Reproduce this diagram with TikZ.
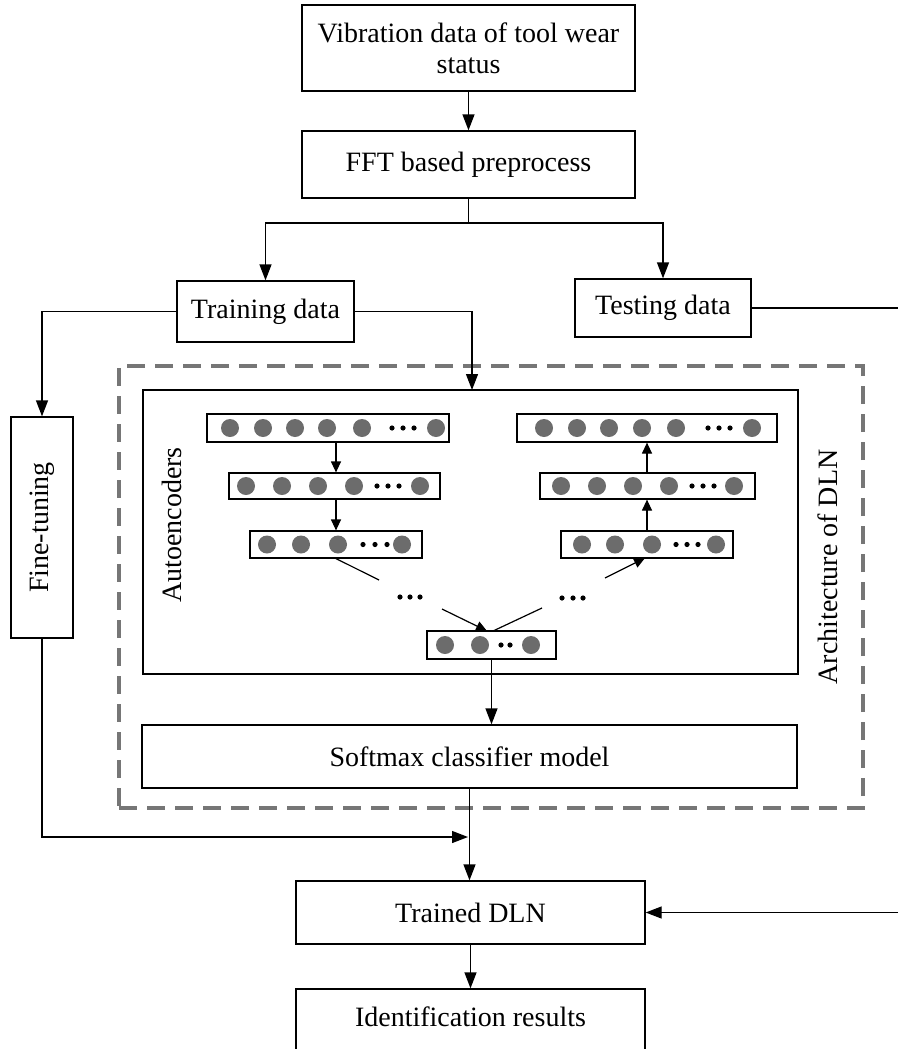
\documentclass[tikz,border=0pt]{standalone}
\usepackage{fontspec}
\setmainfont{Liberation Serif}
\usetikzlibrary{arrows.meta}
\definecolor{unitgray}{RGB}{108,108,108}
\definecolor{dashgray}{RGB}{118,118,118}
% a row of filled neuron units and a row of small dots at height #1
\newcommand\drawunits[2]{\foreach \u in {#2} \fill[unitgray] (\u,#1) circle[radius=9pt];}
\newcommand\drawdots[2]{\foreach \u in {#2} \fill[black] (\u,#1) circle[radius=2.6pt];}
\begin{document}
\begin{tikzpicture}[x=1pt,y=-1pt,
  txt/.style={font=\fontsize{28}{31}\selectfont},
  box/.style={draw, line width=1.3pt, inner sep=0pt, txt, align=center},
  layer/.style={draw, line width=1.2pt, inner sep=0pt},
  conn/.style={line width=1.3pt},
  arr/.style={conn, -{Triangle[length=16pt,width=12pt]}},
  iarr/.style={line width=1.2pt, -{Triangle[length=11pt,width=10pt]}},
  dashbox/.style={draw=dashgray, line width=3.3pt, dash pattern=on 18pt off 10pt, inner sep=0pt}
]
\useasboundingbox (0,0) rectangle (898,1049);
\clip (0,0) rectangle (898,1049);

% main flow boxes
\node[box, minimum width=333pt, minimum height=86pt] (vib) at (468.5,48)
  {Vibration data of tool wear\\status};
\node[box, minimum width=333pt, minimum height=67pt] (fft) at (468.5,164.5) {FFT based preprocess};
\node[box, minimum width=177pt, minimum height=61pt] (train) at (265.5,311.5) {Training data};
\node[box, minimum width=176pt, minimum height=58pt] (test) at (663,308) {Testing data};
\node[box, minimum width=62pt, minimum height=221pt] (fine) at (42,527.5) {};
\node[txt, rotate=90] at (fine.center) {Fine-tuning};

% deep learning network
\node[dashbox, minimum width=744pt, minimum height=442pt] (dln) at (491,587) {};
\node[txt, rotate=90] at (828,567) {Architecture of DLN};
\node[box, minimum width=655pt, minimum height=284pt] (ae) at (470.5,532) {};
\node[txt, rotate=90] at (172,525) {Autoencoders};
\node[box, minimum width=655pt, minimum height=63pt] (soft) at (469.5,756.5) {Softmax classifier model};

% encoder layers
\node[layer, minimum width=242pt, minimum height=28pt] (enc1) at (328,428) {};
\node[layer, minimum width=211pt, minimum height=26pt] (enc2) at (334.5,486) {};
\node[layer, minimum width=172pt, minimum height=27pt] (enc3) at (336,544.5) {};
% decoder layers
\node[layer, minimum width=260pt, minimum height=28pt] (dec1) at (647,428) {};
\node[layer, minimum width=215pt, minimum height=26pt] (dec2) at (647.5,486) {};
\node[layer, minimum width=172pt, minimum height=27pt] (dec3) at (647,544.5) {};
% code layer
\node[layer, minimum width=129pt, minimum height=28pt] (code) at (491.5,645) {};

\drawunits{428}{230,263,295,327,362,436}
\drawdots{428}{392,403,414}
\drawunits{486}{246,282,318,354,420}
\drawdots{486}{377,388,399}
\drawunits{544.5}{267,301,338,402}
\drawdots{544.5}{363,375,387}
\drawunits{428}{544,577,609,642,676,752}
\drawdots{428}{708,719,730}
\drawunits{486}{561,597,633,669,734}
\drawdots{486}{692,703,714}
\drawunits{544.5}{582,615,652,716}
\drawdots{544.5}{676,687,698}
\drawunits{645}{445,480,531}
\drawdots{645}{501,510}
\drawdots{597}{400,410,420}
\drawdots{598}{562,573,583}

% layer connections
\draw[iarr] (enc1.south -| enc3) -- (enc2.north -| enc3);
\draw[iarr] (enc2.south -| enc3) -- (enc3.north);
\draw[iarr] (dec3.north) -- (dec2.south -| dec3);
\draw[iarr] (dec2.north -| dec3) -- (dec1.south -| dec3);
\coordinate (encgap1) at (379,580);
\coordinate (encgap2) at (442,609);
\coordinate (codein) at (487,631);
\coordinate (codeout) at (493,631);
\coordinate (decgap1) at (542,608);
\coordinate (decgap2) at (605,578);
\coordinate (decin) at (645,558);
\draw[line width=1.2pt] (enc3.south) -- (encgap1);
\draw[iarr] (encgap2) -- (codein);
\draw[line width=1.2pt] (codeout) -- (decgap1);
\draw[iarr] (decgap2) -- (decin);
\draw[arr] (code.south) -- (code.south |- soft.north);

% output boxes
\node[box, minimum width=349pt, minimum height=63pt] (trained) at (470.5,912.5) {Trained DLN};
\node[box, minimum width=349pt, minimum height=100pt] (ident) at (470.5,1039) {};
\node[txt] at (470.5,1017) {Identification results};

% flow connections
\coordinate (split) at (468.5,223);
\coordinate (aein) at (472,390);
\coordinate (ftjoin) at (468,837);
\coordinate (testout) at (898,308);
\coordinate (testback) at (898,912.5);
\draw[arr] (vib.south) -- (fft.north);
\draw[conn] (fft.south) -- (split);
\draw[arr] (split) -| (train.north);
\draw[arr] (split) -| (test.north);
\draw[arr] (train.west) -| (fine.north);
\draw[arr] (train.east) -| (aein);
\draw[conn] (test.east) -- (testout);
\draw[arr] (fine.south) |- (ftjoin);
\draw[arr] (soft.south) -- (soft.south |- trained.north);
\draw[arr] (testback) -- (trained.east);
\draw[arr] (trained.south) -- (ident.north);
\end{tikzpicture}
\end{document}
